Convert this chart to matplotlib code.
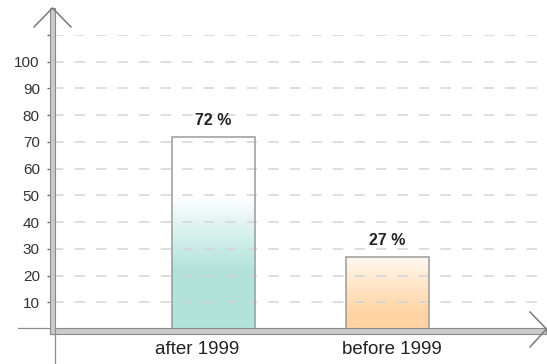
import numpy as np
import matplotlib.pyplot as plt
from matplotlib.colors import to_rgb
from matplotlib.patches import Rectangle
from matplotlib.transforms import ScaledTranslation

# chart data
categories = ["after 1999", "before 1999"]
shares = [72, 27]
value_labels = ["72 %", "27 %"]
y_ticks = [10, 20, 30, 40, 50, 60, 70, 80, 90, 100, 110]
y_tick_labels = ["10", "20", "30", "40", "50", "60", "70", "80", "90", "100", ""]

# fill colours: (top colour, bottom colour, value where fade starts, value where it ends)
fills = [
    ("#ffffff", "#b2e3db", 50, 22),
    ("#fffaf5", "#ffd4a3", 28, 6),
]
# horizontal nudge of the category labels, in pixels
label_shift = [-16, 4.5]

plt.rcParams['font.family'] = ['Liberation Sans', 'DejaVu Sans']
plt.rcParams['lines.scale_dashes'] = False

W, H = 547, 364
fig = plt.figure(figsize=(W / 100, H / 100), dpi=100)

# plot area in pixels
left_px, right_px, zero_px, top_px = 53, 547, 329, 35
ax = fig.add_axes([left_px / W, (H - zero_px) / H,
                   (right_px - left_px) / W, (zero_px - top_px) / H])
ax.set_ylim(0, 110)
px_per_cat = 174
ax.set_xlim(-(213.5 - left_px) / px_per_cat, (right_px - 213.5) / px_per_cat)
for s in ax.spines.values():
    s.set_visible(False)
ax.patch.set_alpha(0)

ax.set_yticks(y_ticks)
ax.set_yticklabels(y_tick_labels, fontsize=11, color="#333333")
ax.tick_params(axis="y", length=4.5, width=0.9, color="#666666", pad=5)
ax.yaxis.grid(True, color="#d4d4d4", linewidth=1.1, linestyle=(0, (7.5, 8)))
ax.set_axisbelow("line")

ax.set_xticks(range(len(categories)))
ax.set_xticklabels(categories, fontsize=13.5, color="#222222")
ax.tick_params(axis="x", length=0, pad=9)
for lbl, dx in zip(ax.get_xticklabels(), label_shift):
    lbl.set_transform(lbl.get_transform() +
                      ScaledTranslation(dx / 100, 0, fig.dpi_scale_trans))

bar_w = 83 / px_per_cat
bars = ax.bar(range(len(categories)), shares, width=bar_w, facecolor="none",
              edgecolor="#9a9a9a", linewidth=1.1, zorder=3)

# vertical gradient inside each bar
for rect, (c_top, c_bot, v_start, v_end) in zip(bars, fills):
    x0 = rect.get_x()
    h = rect.get_height()
    vals = np.linspace(h, 0, 200)
    t = np.clip((v_start - vals) / (v_start - v_end), 0, 1)[:, None]
    img = (1 - t) * np.array(to_rgb(c_top)) + t * np.array(to_rgb(c_bot))
    im = ax.imshow(img[:, None, :], extent=[x0, x0 + rect.get_width(), 0, h],
                   aspect="auto", zorder=1, interpolation="bilinear")
    im.set_clip_path(rect)

for i, (v, lab) in enumerate(zip(shares, value_labels)):
    ax.annotate(lab, (i, v), xytext=(0, 11.5), textcoords="offset points",
                ha="center", va="center", fontsize=11.5, fontweight="bold",
                color="#222222")

# axis frame with arrows, drawn in pixel space
deco = fig.add_axes([0, 0, 1, 1], zorder=5)
deco.set_xlim(0, W)
deco.set_ylim(H, 0)
deco.axis("off")
deco.patch.set_alpha(0)

band_face, band_edge, arrow_col = "#cacaca", "#8c8c8c", "#7a7a7a"
deco.add_patch(Rectangle((50, 328), 496, 6, facecolor=band_face,
                         edgecolor=band_edge, linewidth=0.8))
deco.add_patch(Rectangle((50, 8), 5, 326, facecolor=band_face,
                         edgecolor=band_edge, linewidth=0.8))
deco.plot([18, 50], [328, 328], color=band_edge, linewidth=0.9)
deco.plot([54.5, 54.5], [334, 364], color=band_edge, linewidth=0.9)
deco.plot([34, 52.5, 71], [27, 8, 27], color=arrow_col, linewidth=1.1)
deco.plot([530, 546.5, 530], [312, 329, 347], color=arrow_col, linewidth=1.1)

fig.savefig("out.png", dpi=100)
